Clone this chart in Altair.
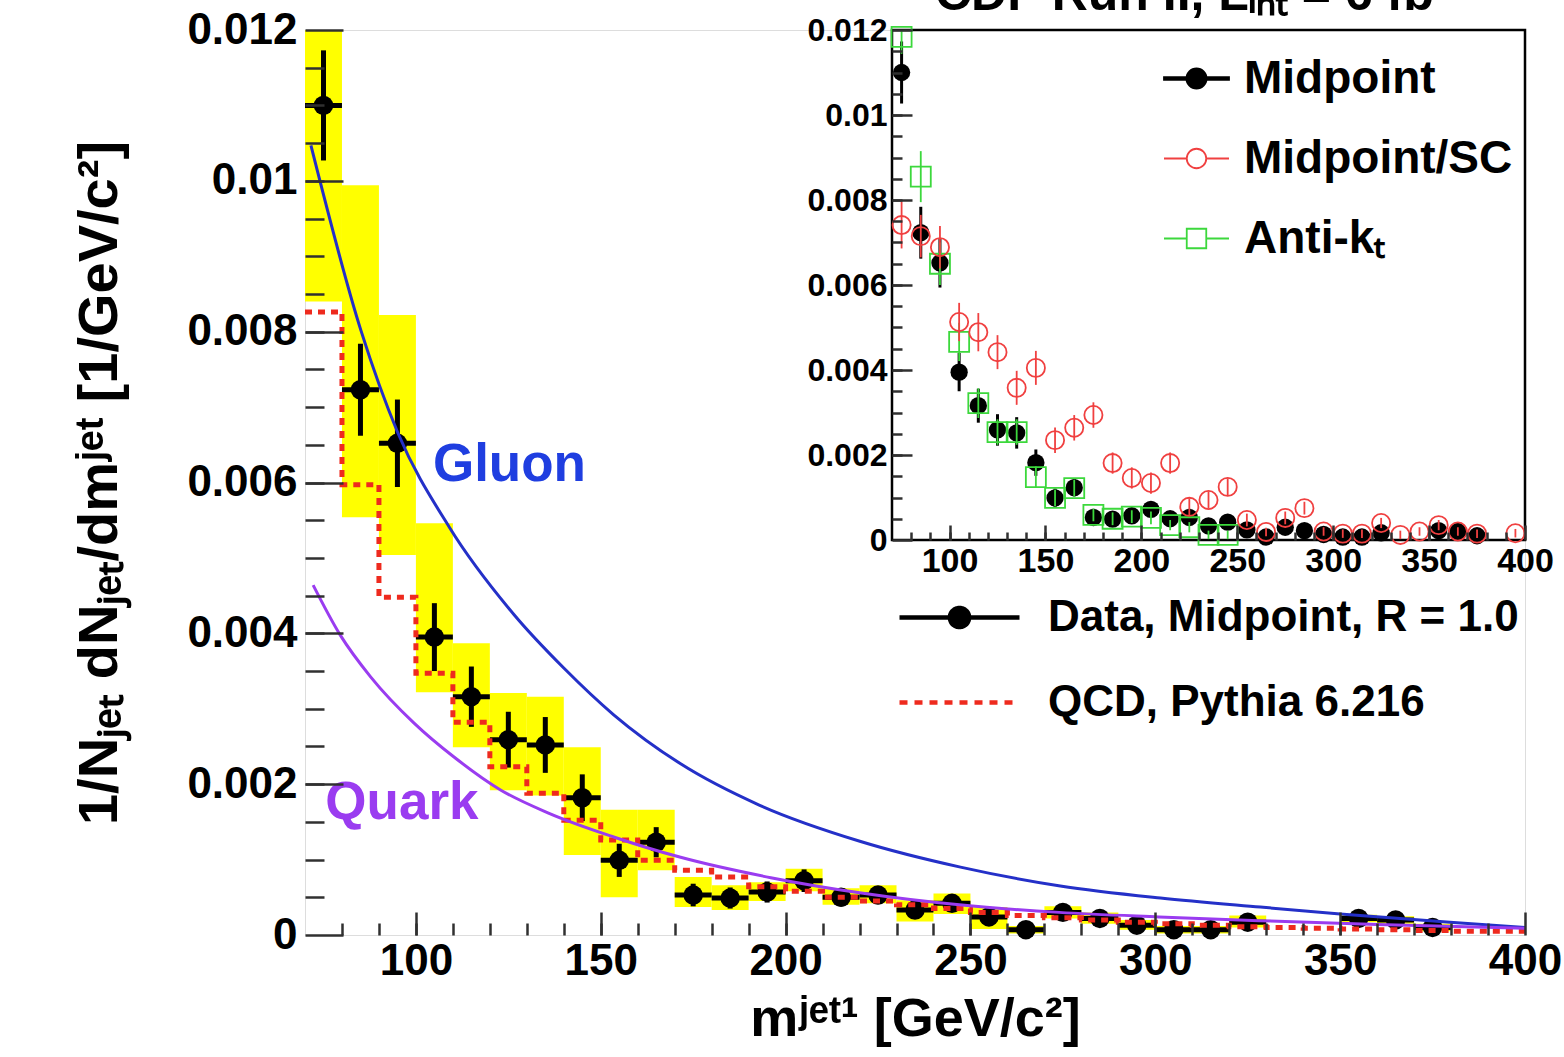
import altair as alt
import pandas as pd

UNIT = 1e-3      # tabulated densities are in units of 1e-3 per GeV/c^2
HALF_BIN = 5     # histogram bins are 10 GeV/c^2 wide

# ---------------- main panel: Midpoint (R = 1.0) data -----------------
mass = [75, 85, 95, 105, 115, 125, 135, 145, 155, 165, 175, 185, 195, 205,
        215, 225, 235, 245, 255, 265, 275, 285, 295, 305, 315, 325, 355, 365, 375]
data_val = [11.00, 7.23, 6.52, 3.95, 3.16, 2.59, 2.52, 1.82, 0.99, 1.23, 0.53, 0.49, 0.57, 0.72,
            0.50, 0.53, 0.33, 0.42, 0.24, 0.07, 0.30, 0.22, 0.13, 0.07, 0.07, 0.17, 0.22, 0.20, 0.10]
data_err = [0.73, 0.61, 0.58, 0.45, 0.40, 0.37, 0.37, 0.31, 0.22, 0.20, 0.15, 0.14, 0.14, 0.15,
            0.12, 0.12, 0.10, 0.10, 0.09, 0.08, 0.08, 0.08, 0.07, 0.07, 0.07, 0.07, 0.07, 0.07, 0.06]
sys_lo = [8.40, 5.54, 5.04, 3.22, 2.49, 1.92, 1.85, 1.06, 0.50, 0.86, 0.37, 0.33, 0.45, 0.58,
          0.40, 0.42, 0.18, 0.28, 0.08, 0.02, 0.22, 0.15, 0.07, 0.02, 0.02, 0.10, 0.17, 0.15, 0.05]
sys_hi = [13.60, 9.94, 8.22, 5.46, 3.87, 3.21, 3.16, 2.49, 1.66, 1.66, 0.77, 0.66, 0.70, 0.88,
          0.62, 0.66, 0.46, 0.55, 0.37, 0.12, 0.38, 0.30, 0.20, 0.12, 0.12, 0.26, 0.27, 0.25, 0.15]

# Pythia 6.216 prediction, one value per bin (last value closes the final step)
pythia_edge = [70, 80, 90, 100, 110, 120, 130, 140, 150, 160, 170, 180, 190, 200, 210, 220, 230,
               240, 250, 260, 270, 280, 290, 300, 310, 320, 330, 340, 350, 360, 370, 380, 390, 400]
pythia_val = [8.26, 5.97, 4.48, 3.47, 2.82, 2.23, 1.88, 1.52, 1.26, 0.99,
              0.86, 0.77, 0.64, 0.58, 0.50, 0.45, 0.40, 0.35, 0.30, 0.26,
              0.23, 0.20, 0.17, 0.15, 0.13, 0.11, 0.10, 0.09, 0.08, 0.07,
              0.06, 0.05, 0.05, 0.05]

# analytic jet-function curves
gluon_m = [71.6, 85.1, 95.1, 109.0, 126.5, 140.0, 153.5, 171.6, 193.0, 220.3, 247.3,
           274.3, 301.4, 328.4, 350.0, 379.7, 400.0]
gluon_val = [10.47, 8.02, 6.66, 5.41, 4.25, 3.54, 2.92, 2.27, 1.72, 1.24, 0.90,
             0.65, 0.49, 0.37, 0.28, 0.17, 0.10]
quark_m = [72.2, 79.5, 87.8, 99.5, 110.3, 123.0, 135.7, 153.5, 171.6, 196.0, 220.0,
           247.0, 274.0, 301.0, 328.0, 360.0, 400.0]
quark_val = [4.64, 3.98, 3.42, 2.81, 2.36, 1.92, 1.62, 1.30, 1.03, 0.76, 0.56,
             0.40, 0.30, 0.24, 0.19, 0.14, 0.09]

curve_label = ["Gluon", "Quark"]
curve_label_m = [104.6, 75.5]
curve_label_val = [6.23, 1.75]

# ---------------- inset: jet algorithm comparison ---------------------
sc_mass = [75, 85, 95, 105, 115, 125, 135, 145, 155, 165, 175, 185, 195, 205, 215, 225,
           235, 245, 255, 265, 275, 285, 295, 305, 315, 325, 335, 345, 355, 365, 375, 395]
sc_val = [7.41, 7.15, 6.89, 5.13, 4.89, 4.42, 3.58, 4.05, 2.35, 2.64,
          2.94, 1.81, 1.46, 1.34, 1.81, 0.78, 0.94, 1.25, 0.47, 0.19,
          0.52, 0.75, 0.20, 0.15, 0.15, 0.40, 0.12, 0.20, 0.35, 0.20,
          0.15, 0.16]
sc_err = [0.55, 0.50, 0.50, 0.45, 0.45, 0.40, 0.40, 0.40, 0.30, 0.30,
          0.30, 0.25, 0.25, 0.25, 0.25, 0.20, 0.20, 0.20, 0.15, 0.10,
          0.15, 0.15, 0.10, 0.10, 0.10, 0.12, 0.10, 0.10, 0.12, 0.10,
          0.10, 0.10]
akt_mass = [75, 85, 95, 105, 115, 125, 135, 145, 155, 165, 175, 185, 195, 205, 215, 225, 235, 245]
akt_val = [11.84, 8.55, 6.50, 4.66, 3.22, 2.54, 2.54, 1.48, 0.99, 1.22,
           0.59, 0.50, 0.55, 0.52, 0.35, 0.30, 0.12, 0.12]
akt_err = [0.40, 0.60, 0.50, 0.45, 0.35, 0.30, 0.30, 0.25, 0.20, 0.20,
           0.15, 0.15, 0.15, 0.15, 0.12, 0.12, 0.10, 0.10]

main_series = ["Data, Midpoint, R = 1.0", "QCD, Pythia 6.216"]
inset_series = ["Midpoint", "Midpoint/SC", "Anti-k\u209c"]

# axis ticks
x_major = [100, 150, 200, 250, 300, 350, 400]
x_minor = list(range(80, 400, 10))
y_major = [0, 0.002, 0.004, 0.006, 0.008, 0.010, 0.012]
y_minor = [round(0.0005 * i, 4) for i in range(1, 24)]

X_TITLE = "m\u02b2\u1d49\u1d57\u00b9 [GeV/c\u00b2]"
Y_TITLE = "1/N\u2c7c\u2091\u209c dN\u2c7c\u2091\u209c/dm\u02b2\u1d49\u1d57 [1/GeV/c\u00b2]"
TOP_TEXT = "CDF Run II, L\u1d62\u2099\u209c = 6 fb\u207b\u00b9"

# ---------------- styling ---------------------------------------------
FONT = "Liberation Sans"
YELLOW = "#ffff00"
RED = "#ee2a1e"
BLUE = "#2430c8"
BLUE_TXT = "#1f3ee0"
PURPLE = "#9a3cf0"
SC_RED = "#f04040"
AKT_GREEN = "#3cd83c"
TICK = "#303030"

W, H = 1220, 905
XM = alt.Scale(domain=[70, 400], nice=False, zero=False)
YM = alt.Scale(domain=[0, 0.012], nice=False, zero=False)
XI = alt.Scale(domain=[70, 400], range=[587, 1220], nice=False, zero=False)
YI = alt.Scale(domain=[0, 0.012], range=[510, 0], nice=False, zero=False)

lab = dict(labelFont=FONT, labelFontWeight="bold", labelColor="black")


def tick_axis(orient, values, size, shift, labels=False, **kw):
    """Axis whose ticks point into the plot: the axis line is pushed inward
    by the tick length so the ticks end on the frame."""
    opts = dict(orient=orient, values=values, tickSize=size, offset=shift - size,
                domain=False, grid=False, labels=labels, tickColor=TICK,
                tickWidth=2.5, zindex=1)
    if "title" not in kw:
        opts["title"] = None
    opts.update(kw)
    return alt.Axis(**opts)


AX_MAIN_XMAJ = tick_axis("bottom", x_major, 23, 0, labels=True, format="d",
                         labelFontSize=44, labelPadding=4, labelFlush=False,
                         labelOverlap=False, title=X_TITLE, titleFont=FONT,
                         titleFontSize=54, titleFontWeight="bold", titleColor="black",
                         titlePadding=9, **lab)
AX_MAIN_XMIN = tick_axis("bottom", x_minor, 12, 0)
AX_MAIN_YMAJ = tick_axis("left", y_major, 38, 0, labels=True, format=".3~f",
                         labelFontSize=44, labelPadding=8, labelOverlap=False,
                         title=Y_TITLE, titleFont=FONT, titleFontSize=56,
                         titleFontWeight="bold", titleColor="black", titlePadding=58, **lab)
AX_MAIN_YMIN = tick_axis("left", y_minor, 19, 0)

AX_IN_XMAJ = tick_axis("bottom", x_major, 15, -(H - 510), labels=True, format="d",
                       labelFontSize=34, labelPadding=4, labelFlush=False,
                       labelOverlap=False, **lab)
AX_IN_XMIN = tick_axis("bottom", x_minor, 8, -(H - 510))
AX_IN_YMAJ = tick_axis("left", y_major, 20, -587, labels=True, format=".3~f",
                       labelFontSize=32, labelPadding=5, labelOverlap=False, **lab)
AX_IN_YMIN = tick_axis("left", y_minor, 10, -587)

# ---------------- tables ----------------------------------------------
main_df = pd.DataFrame({
    "m": mass,
    "x0": [m - HALF_BIN for m in mass],
    "x1": [m + HALF_BIN for m in mass],
    "v": [v * UNIT for v in data_val],
    "e0": [(v - e) * UNIT for v, e in zip(data_val, data_err)],
    "e1": [(v + e) * UNIT for v, e in zip(data_val, data_err)],
    "s0": [v * UNIT for v in sys_lo],
    "s1": [v * UNIT for v in sys_hi],
})
pythia_df = pd.DataFrame({"m": pythia_edge, "v": [v * UNIT for v in pythia_val]})
gluon_df = pd.DataFrame({"m": gluon_m, "v": [v * UNIT for v in gluon_val]})
quark_df = pd.DataFrame({"m": quark_m, "v": [v * UNIT for v in quark_val]})
label_df = pd.DataFrame({"text": curve_label, "m": curve_label_m,
                         "v": [v * UNIT for v in curve_label_val],
                         "c": [BLUE_TXT, PURPLE]})


def err_table(ms, vals, errs):
    return pd.DataFrame({
        "m": ms,
        "v": [v * UNIT for v in vals],
        "e0": [(v - e) * UNIT for v, e in zip(vals, errs)],
        "e1": [(v + e) * UNIT for v, e in zip(vals, errs)],
    })


mid_df = err_table(mass, data_val, data_err)
sc_df = err_table(sc_mass, sc_val, sc_err)
akt_df = err_table(akt_mass, akt_val, akt_err)
frame_df = pd.DataFrame({"x0": [70], "x1": [400], "y0": [0.0], "y1": [0.012]})


def X(f, scale, axis=None):
    return alt.X(f, type="quantitative", scale=scale, axis=axis)


def Y(f, scale, axis=None):
    return alt.Y(f, type="quantitative", scale=scale, axis=axis)


# ---------------- main panel layers -----------------------------------
syst = alt.Chart(main_df).mark_rect(color=YELLOW, clip=True).encode(
    x=X("x0", XM, AX_MAIN_XMAJ), x2="x1", y=Y("s0", YM, AX_MAIN_YMAJ), y2="s1")
hbar = alt.Chart(main_df).mark_rule(color="black", strokeWidth=5).encode(
    x=X("x0", XM), x2="x1", y=Y("v", YM))
vbar = alt.Chart(main_df).mark_rule(color="black", strokeWidth=5, clip=True).encode(
    x=X("m", XM), y=Y("e0", YM), y2="e1")
dots = alt.Chart(main_df).mark_circle(color="black", size=380, opacity=1).encode(
    x=X("m", XM), y=Y("v", YM))
pythia = alt.Chart(pythia_df).mark_line(
    interpolate="step-after", color=RED, strokeWidth=5, strokeDash=[7, 6]
).encode(x=X("m", XM, AX_MAIN_XMIN), y=Y("v", YM, AX_MAIN_YMIN))
gluon = alt.Chart(gluon_df).mark_line(interpolate="monotone", color=BLUE, strokeWidth=3).encode(
    x=X("m", XM), y=Y("v", YM))
quark = alt.Chart(quark_df).mark_line(interpolate="monotone", color=PURPLE, strokeWidth=3).encode(
    x=X("m", XM), y=Y("v", YM))
labels = alt.Chart(label_df).mark_text(
    align="left", baseline="middle", font=FONT, fontSize=53, fontWeight="bold"
).encode(x=X("m", XM), y=Y("v", YM), text="text:N", color=alt.Color("c:N", scale=None))

# legend for the main panel
PATH_DATA = "M-1,0H1M-0.16,0A0.16,0.16 0 1,1 0.16,0A0.16,0.16 0 1,1 -0.16,0Z"
PATH_LINE = "M-1,0H1"
LEG_MAIN = alt.Legend(title=None, orient="none", legendX=592, legendY=525, padding=0,
                      symbolSize=14400, symbolStrokeWidth=4.5, symbolOpacity=1,
                      labelFont=FONT, labelFontSize=44, labelFontWeight="bold",
                      labelColor="black", labelOffset=26, labelLimit=1000, rowPadding=0)
main_key = alt.Chart(pd.DataFrame({"series": main_series})).mark_point(opacity=0).encode(
    shape=alt.Shape("series:N", scale=alt.Scale(domain=main_series, range=[PATH_DATA, PATH_LINE]),
                    legend=LEG_MAIN),
    fill=alt.Fill("series:N", scale=alt.Scale(domain=main_series, range=["black", "transparent"]),
                  legend=LEG_MAIN),
    stroke=alt.Stroke("series:N", scale=alt.Scale(domain=main_series, range=["black", RED]),
                      legend=LEG_MAIN),
    strokeDash=alt.StrokeDash("series:N",
                              scale=alt.Scale(domain=main_series, range=[[1, 0], [8, 7]]),
                              legend=LEG_MAIN),
)

# ---------------- inset layers ----------------------------------------
frame = alt.Chart(frame_df).mark_rect(filled=False, stroke="black", strokeWidth=2.5).encode(
    x=X("x0", XI, AX_IN_XMAJ), x2="x1", y=Y("y0", YI, AX_IN_YMAJ), y2="y1")
mid_bar = alt.Chart(mid_df).mark_rule(color="black", strokeWidth=3).encode(
    x=X("m", XI, AX_IN_XMIN), y=Y("e0", YI, AX_IN_YMIN), y2="e1")
mid_dot = alt.Chart(mid_df).mark_circle(color="black", size=300, opacity=1).encode(
    x=X("m", XI), y=Y("v", YI))
akt_bar = alt.Chart(akt_df).mark_rule(color=AKT_GREEN, strokeWidth=1.8, clip=True).encode(
    x=X("m", XI), y=Y("e0", YI), y2="e1")
akt_pt = alt.Chart(akt_df).mark_point(
    shape="square", filled=False, size=400, strokeWidth=1.8, color=AKT_GREEN, opacity=1
).encode(x=X("m", XI), y=Y("v", YI))
sc_bar = alt.Chart(sc_df).mark_rule(color=SC_RED, strokeWidth=1.8).encode(
    x=X("m", XI), y=Y("e0", YI), y2="e1")
sc_pt = alt.Chart(sc_df).mark_point(
    shape="circle", filled=False, size=330, strokeWidth=1.8, color=SC_RED, opacity=1
).encode(x=X("m", XI), y=Y("v", YI))

PATH_MID = ("M-1,-0.04H1V0.04H-1Z"
            "M-0.31,0A0.31,0.31 0 1,1 0.31,0A0.31,0.31 0 1,1 -0.31,0Z")
PATH_SC = "M-1,0H-0.3M0.3,0H1M-0.3,0A0.3,0.3 0 1,1 0.3,0A0.3,0.3 0 1,1 -0.3,0Z"
PATH_AKT = "M-1,0H-0.3M0.3,0H1M-0.3,-0.3H0.3V0.3H-0.3Z"
LEG_INSET = alt.Legend(title=None, orient="none", legendX=858, legendY=15, padding=0,
                       symbolSize=4225, symbolStrokeWidth=1.8, symbolOpacity=1,
                       labelFont=FONT, labelFontSize=46, labelFontWeight="bold",
                       labelColor="black", labelOffset=14, labelLimit=1000, rowPadding=23)
inset_key = alt.Chart(pd.DataFrame({"algo": inset_series})).mark_point(opacity=0).encode(
    shape=alt.Shape("algo:N", scale=alt.Scale(domain=inset_series,
                                              range=[PATH_MID, PATH_SC, PATH_AKT]),
                    legend=LEG_INSET),
    fill=alt.Fill("algo:N", scale=alt.Scale(domain=inset_series,
                                            range=["black", "transparent", "transparent"]),
                  legend=LEG_INSET),
    stroke=alt.Stroke("algo:N", scale=alt.Scale(domain=inset_series,
                                                range=["black", SC_RED, AKT_GREEN]),
                      legend=LEG_INSET),
)

chart = alt.layer(
    syst, hbar, vbar, dots, pythia, gluon, quark, labels, main_key,
    frame, mid_bar, mid_dot, akt_bar, akt_pt, sc_bar, sc_pt, inset_key,
).resolve_scale(
    x="independent", y="independent", shape="independent", fill="independent",
    stroke="independent", strokeDash="independent",
).properties(
    width=W, height=H, autosize="none",
    padding={"left": 305, "top": 30, "right": 39, "bottom": 122},
    title=alt.TitleParams(text=TOP_TEXT, anchor="start", frame="group", dx=630, offset=0,
                          dy=52, baseline="alphabetic", font=FONT, fontSize=50,
                          fontWeight="bold", color="black"),
).configure_view(
    stroke="#555555", strokeWidth=2.5
).configure(background="white")

chart.save("out.html", embed_options={"renderer": "svg", "actions": False})
